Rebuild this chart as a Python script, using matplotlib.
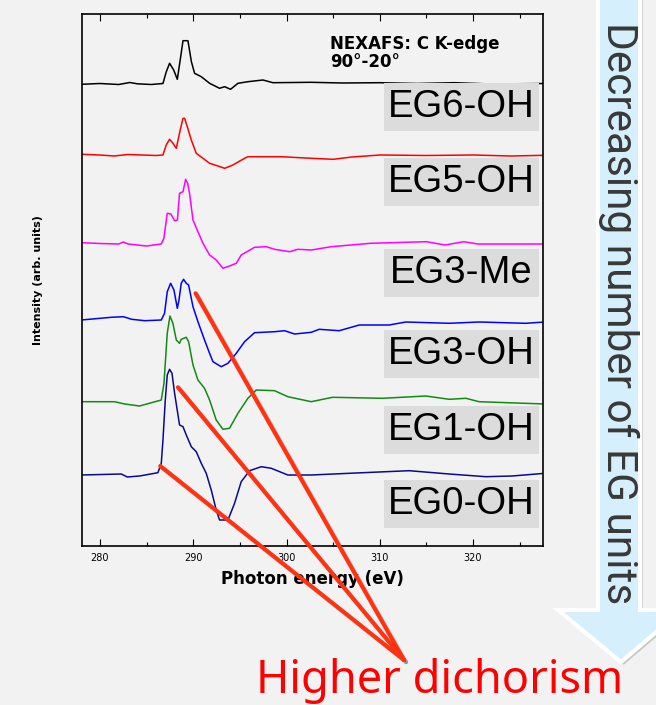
import matplotlib.pyplot as plt
import matplotlib.patches as mpatches
import matplotlib.patheffects as pe

# espectros NEXAFS (energia em eV, intensidade relativa a linha de base, unid. arb.)
e_eg6 = [278.0, 280, 282, 283.2, 284, 285.5, 286.75, 287.1, 287.46, 287.9, 288.29, 288.6, 288.9, 289.43,
         289.8, 290.14, 290.86, 291.75, 292.82, 293.36, 294.0, 294.79, 295.86, 297.47, 298.54, 302.65,
         306, 310, 314, 318, 322, 327.7]
i_eg6 = [-0.03, 0.05, -0.05, 0.15, 0.02, -0.05, 0.05, 1.2, 2.07, 1.4, 0.47, 2.4, 4.33, 4.33, 2.23, 1.07,
         0.73, 0.07, -0.43, -0.27, -0.53, 0.07, 0.23, 0.4, 0.13, 0.17, 0.1, 0.13, 0.05, 0.13, 0, 0.05]

e_eg5 = [278.0, 280, 281.5, 283, 284.5, 286, 286.75, 287.1, 287.46, 287.8, 288.18, 288.6, 288.9, 289.07,
         289.36, 289.79, 290.32, 291.04, 291.75, 292.65, 293.36, 294.25, 295.5, 295.86, 299.43, 302.65,
         305, 307, 310, 315, 320, 324, 327.7]
i_eg5 = [0.07, 0, -0.1, 0.05, 0, -0.05, 0, 1.0, 1.57, 1.2, 0.67, 2.5, 3.67, 3.67, 2.83, 1.5, 0.17, -0.33,
         -0.83, -1.1, -1.33, -1.0, -0.33, -0.17, -0.17, -0.33, -0.43, -0.2, 0, -0.05, 0, -0.1, -0.03]

e_eg3me = [278.0, 280, 282.0, 282.5, 283, 285.0, 286.57, 286.85, 287.21, 287.6, 288.0, 288.3, 288.53,
           288.9, 289.18, 289.4, 289.6, 289.97, 290.5, 291.04, 291.75, 292.46, 293.18, 293.89, 294.61,
           295.14, 296.57, 297.82, 298.72, 300.32, 301.22, 302.65, 304.8, 309, 315, 317, 319, 320.5, 327.7]
i_eg3me = [0.08, 0, -0.05, 0.15, -0.05, -0.25, -0.05, 0.52, 3.02, 2.95, 2.28, 2.35, 5.02, 5.18, 6.42,
           6.02, 5.02, 2.35, 1.18, 0.02, -1.15, -1.65, -2.48, -2.25, -1.98, -1.15, -0.38, -0.32, -0.58,
           -0.82, -0.58, -0.65, -0.32, 0.02, 0.18, -0.15, 0.18, -0.05, -0.05]

e_eg3 = [278.0, 281.2, 282.5, 283.4, 284.8, 286.57, 286.92, 287.21, 287.57, 287.93, 288.29, 288.47, 288.71,
         288.96, 289.25, 289.5, 289.97, 290.5, 291.21, 291.75, 292.11, 293.0, 293.72, 294.61, 295.5, 296.57,
         298.72, 299.79, 300.86, 302.65, 303.5, 305.65, 307.8, 311.0, 312.8, 317.44, 320.65, 325.66, 327.7]
i_eg3 = [0, 0.27, 0.33, 0.07, -0.07, 0, 0.67, 2.83, 3.67, 3.0, 1.17, 2.0, 3.67, 4.07, 3.67, 3.5, 1.33,
         -0.17, -2.0, -3.33, -4.17, -4.67, -4.33, -3.33, -2.17, -1.27, -1.17, -1.07, -1.4, -1.23, -0.93,
         -1.07, -0.5, -0.5, -0.2, -0.33, -0.2, -0.33, -0.2]

e_eg1 = [278.0, 281.56, 282.64, 284.24, 286.57, 286.86, 287.21, 287.5, 287.82, 288.18, 288.53, 288.71,
         289.25, 289.5, 289.97, 290.5, 291.21, 291.75, 292.46, 293.18, 293.89, 294.79, 295.86, 296.75,
         298.72, 300.14, 302.65, 304.93, 310.29, 314.94, 317.44, 319.23, 320.65, 327.7]
i_eg1 = [0, 0, -0.23, -0.43, 0.17, 1.84, 6.84, 8.57, 7.84, 6.17, 5.84, 6.24, 6.44, 6.0, 3.67, 2.17, 1.34,
         0.17, -1.83, -2.76, -2.66, -1.16, 0.34, 1.17, 1.1, 0.5, 0, 0.44, 0.34, 0.57, 0.24, 0.34, 0, -0.23]

e_eg0 = [278.0, 282.28, 282.93, 284.24, 286.21, 286.57, 286.75, 287.0, 287.21, 287.46, 287.72, 288.0,
         288.53, 288.9, 289.25, 289.79, 290.32, 290.86, 291.39, 291.93, 292.46, 292.82, 293.72, 294.43,
         295.14, 296.04, 297.29, 298.36, 300.14, 302.65, 306.72, 313.15, 317.44, 321.37, 324.19, 327.7]
i_eg0 = [0, 0.1, -0.2, -0.1, 0.23, 1.17, 3.5, 7.5, 10.0, 10.57, 10.17, 8.17, 5.0, 4.83, 4.0, 2.83, 2.33,
         1.17, 0.17, -1.5, -3.5, -4.5, -4.5, -2.83, -0.67, 0.43, 0.83, 0.67, 0, 0, 0.17, 0.43, 0.1,
         -0.17, -0.1, 0.17]

nomes = ['EG6-OH', 'EG5-OH', 'EG3-Me', 'EG3-OH', 'EG1-OH', 'EG0-OH']
energias = [e_eg6, e_eg5, e_eg3me, e_eg3, e_eg1, e_eg0]
intensidades = [i_eg6, i_eg5, i_eg3me, i_eg3, i_eg1, i_eg0]
deslocamentos = [46.17, 39.07, 30.22, 22.57, 14.4, 7.07]  # offset vertical de cada curva
cores = ['black', '#ff0000', '#ff00ff', '#0000ff', '#138a13', '#0a0a8c']

fundo = '#f2f2f2'
fig = plt.figure(figsize=(6.56, 7.05), dpi=100, facecolor=fundo)
ax = fig.add_axes([82 / 656, 1 - 545.7 / 705, 461 / 656, 531.7 / 705], facecolor=fundo)

for e, i, d, c in zip(energias, intensidades, deslocamentos, cores):
    ax.plot(e, [v + d for v in i], color=c, lw=1.1, zorder=2)

ax.set_xlim(278.07, 327.5)
ax.set_ylim(0, 53.17)
ax.set_yticks([])
ax.set_xticks([280, 290, 300, 310, 320])
ax.set_xticks(range(285, 326, 10), minor=True)
ax.tick_params(axis='x', which='both', direction='in', top=True, labelsize=7, pad=5)
ax.tick_params(axis='x', which='major', length=5, width=0.8)
ax.tick_params(axis='x', which='minor', length=3, width=0.8)
for s in ax.spines.values():
    s.set_linewidth(1.2)
ax.set_xlabel('Photon energy (eV)', fontsize=12, fontweight='bold', labelpad=5)
ax.set_ylabel('Intensity (arb. units)', fontsize=8, fontweight='bold', labelpad=28)

ax.text(0.538, 0.96, 'NEXAFS: C K-edge\n90°-20°', transform=ax.transAxes, fontsize=12,
        fontweight='bold', va='top', ha='left', linespacing=1.0)

# caixas cinzas com os nomes das amostras
base_caixas = [0.7799, 0.6389, 0.4678, 0.3154, 0.1725, 0.0333]
for nome, y0 in zip(nomes, base_caixas):
    ax.add_patch(mpatches.Rectangle((0.655, y0), 0.336, 0.0903, transform=ax.transAxes,
                                    facecolor='#dcdcdd', edgecolor='none', zorder=3))
    ax.text(0.823, y0 + 0.045, nome, transform=ax.transAxes, fontsize=27.5, family='Liberation Sans',
            ha='center', va='center', color='black', zorder=4)

# linhas vermelhas "Higher dichorism"
inicios = [(290.25, 25.24), (288.36, 15.84), (286.46, 7.97)]
for x0, y0 in inicios:
    ax.annotate('', xy=(x0, y0), xycoords='data', xytext=(404 / 656, 1 - 660 / 705),
                textcoords='figure fraction', annotation_clip=False,
                arrowprops=dict(arrowstyle='-', color='#ff3312', lw=3, shrinkA=0, shrinkB=0,
                                path_effects=[pe.SimpleLineShadow(offset=(1.5, -1.5), alpha=0.15),
                                              pe.Normal()]), zorder=5)

fig.text(440 / 656, 11.5 / 705, 'Higher dichorism', color='#ff0000', fontsize=32.5, family='Noto Sans',
         ha='center', va='baseline')

# seta azul a direita
pts = [(598, -10), (640, -10), (640, 610), (682, 610), (621, 662), (558, 610), (598, 610)]
seta = mpatches.Polygon([(x / 656, 1 - y / 705) for x, y in pts], closed=True, transform=fig.transFigure,
                        facecolor='#d6effc', edgecolor='white', lw=3, zorder=1,
                        path_effects=[pe.SimplePatchShadow(offset=(2, -2), alpha=0.25), pe.Normal()])
fig.patches.append(seta)
fig.text(619 / 656, 1 - 313 / 705, 'Decreasing number of EG units', rotation=-90, color='#383838',
         fontsize=30.5, family='Roboto', ha='center', va='center')

plt.savefig('out.png', dpi=100, facecolor=fundo)
